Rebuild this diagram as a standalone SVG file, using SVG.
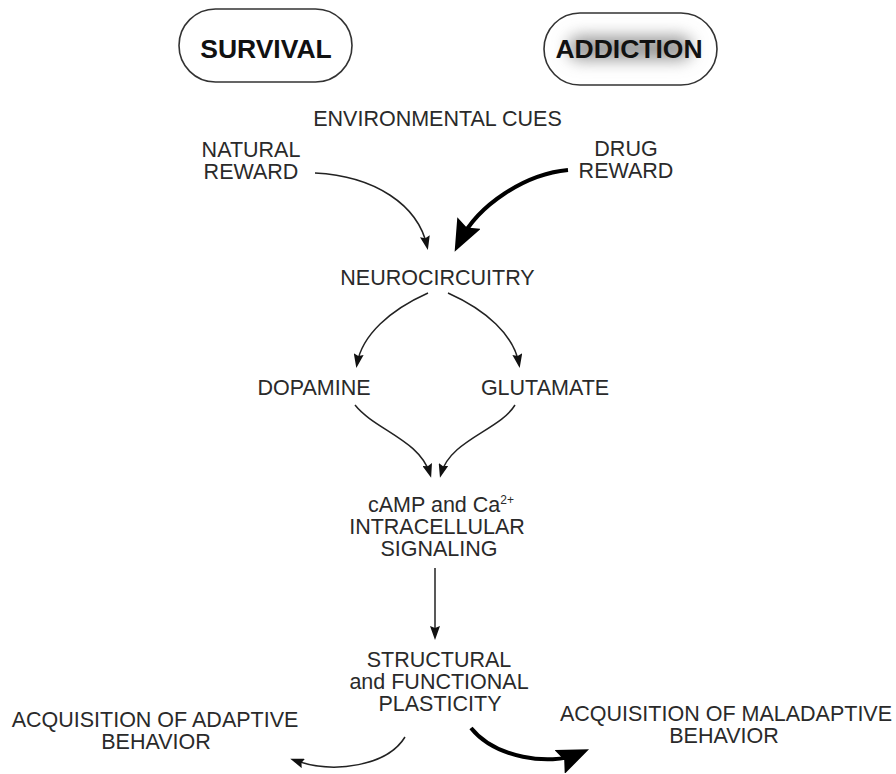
<svg xmlns="http://www.w3.org/2000/svg" width="896" height="774" viewBox="0 0 896 774">
<defs>
<style>
.t{font-family:"Liberation Sans",Arial,sans-serif;font-size:21.5px;fill:#2a2a2a;text-anchor:middle}
.b{font-family:"Liberation Sans",Arial,sans-serif;font-size:26.5px;font-weight:bold;fill:#111;text-anchor:middle}
.pill{fill:none;stroke:#333;stroke-width:1.6}
.thin{fill:none;stroke:#222;stroke-width:1.5}
.thick{fill:none;stroke:#000;stroke-width:4}
</style>
<marker id="ah" markerUnits="userSpaceOnUse" markerWidth="14" markerHeight="10" refX="10" refY="5" orient="auto" viewBox="0 0 14 10">
<path d="M0,0 L14,5 L0,10 L2,5 z" fill="#111"/>
</marker>
<marker id="ahb" markerUnits="userSpaceOnUse" markerWidth="32" markerHeight="26" refX="20" refY="13" orient="auto" viewBox="0 0 32 26">
<path d="M0,0 L32,13 L0,26 L5,13 z" fill="#000"/>
</marker>
<filter id="glow" x="-30%" y="-80%" width="160%" height="260%">
<feGaussianBlur stdDeviation="8"/>
</filter>
</defs>

<g id="survival">
<rect class="pill" x="179" y="9" width="173" height="73" rx="36.5"/>
<text class="b" x="266" y="58">SURVIVAL</text>
</g>

<g id="addiction">
<rect x="568" y="36" width="124" height="24" rx="12" fill="#9a9a9a" filter="url(#glow)"/>
<rect class="pill" x="544" y="13" width="173" height="72" rx="36"/>
<text class="b" x="629" y="58">ADDICTION</text>
</g>

<g id="env-cues"><text class="t" x="437.5" y="126">ENVIRONMENTAL CUES</text></g>
<g id="natural-reward"><text class="t" x="251" y="157">NATURAL</text><text class="t" x="251" y="179">REWARD</text></g>
<g id="drug-reward"><text class="t" x="626" y="156">DRUG</text><text class="t" x="626" y="178">REWARD</text></g>
<g id="neurocircuitry"><text class="t" x="437.5" y="285">NEUROCIRCUITRY</text></g>
<g id="dopamine"><text class="t" x="314" y="395">DOPAMINE</text></g>
<g id="glutamate"><text class="t" x="545" y="395">GLUTAMATE</text></g>
<g id="signaling">
<text class="t" x="441" y="512">cAMP and Ca<tspan font-size="12" dy="-8">2+</tspan></text>
<text class="t" x="437" y="534">INTRACELLULAR</text>
<text class="t" x="439" y="556">SIGNALING</text>
</g>
<g id="plasticity">
<text class="t" x="439" y="667">STRUCTURAL</text>
<text class="t" x="439" y="689">and FUNCTIONAL</text>
<text class="t" x="440" y="711">PLASTICITY</text>
</g>
<g id="adaptive"><text class="t" x="155" y="727">ACQUISITION OF ADAPTIVE</text><text class="t" x="156" y="749">BEHAVIOR</text></g>
<g id="maladaptive"><text class="t" x="726" y="721">ACQUISITION OF MALADAPTIVE</text><text class="t" x="724" y="743">BEHAVIOR</text></g>

<g id="connectors">
<path class="thin" d="M315,173 C375,176 418,205 427,246" marker-end="url(#ah)"/>
<path class="thick" d="M568,170 C525,174 478,205 460,241" marker-end="url(#ahb)"/>
<path class="thin" d="M428,293 C390,310 362,335 357,364" marker-end="url(#ah)"/>
<path class="thin" d="M448,293 C486,310 514,335 519,364" marker-end="url(#ah)"/>
<path class="thin" d="M355,405 C375,430 420,440 430,474" marker-end="url(#ah)"/>
<path class="thin" d="M515,405 C500,430 450,440 441,474" marker-end="url(#ah)"/>
<path class="thin" d="M435,568 L435,636" marker-end="url(#ah)"/>
<path class="thin" d="M405,737 C388,765 335,775 294,760" marker-end="url(#ah)"/>
<path class="thick" d="M471,728 C495,758 550,766 578,754" marker-end="url(#ahb)"/>
</g>
</svg>
